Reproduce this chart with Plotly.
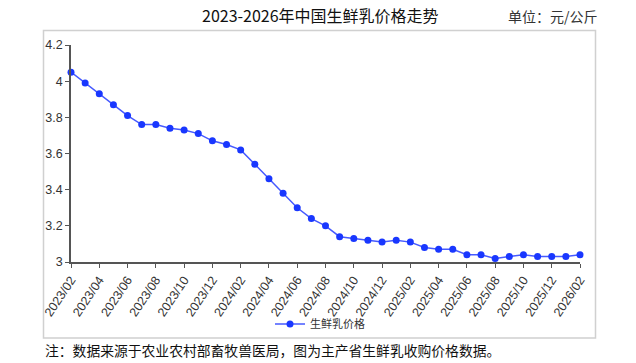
import plotly.graph_objects as go

months = ["2023/02","2023/03","2023/04","2023/05","2023/06","2023/07","2023/08","2023/09","2023/10","2023/11","2023/12",
          "2024/01","2024/02","2024/03","2024/04","2024/05","2024/06","2024/07","2024/08","2024/09","2024/10","2024/11","2024/12",
          "2025/01","2025/02","2025/03","2025/04","2025/05","2025/06","2025/07","2025/08","2025/09","2025/10","2025/11","2025/12",
          "2026/01","2026/02"]
prices = [4.05,3.99,3.93,3.87,3.81,3.76,3.76,3.74,3.73,3.71,3.67,
          3.65,3.62,3.54,3.46,3.38,3.30,3.24,3.20,3.14,3.13,3.12,3.11,
          3.12,3.11,3.08,3.07,3.07,3.04,3.04,3.02,3.03,3.04,3.03,3.03,
          3.03,3.04]
tick_labels = months[::2]
y_ticks = [3, 3.2, 3.4, 3.6, 3.8, 4, 4.2]
y_tick_text = ["3", "3.2", "3.4", "3.6", "3.8", "4", "4.2"]

series_name = "生鲜乳价格"
title_text = "2023-2026年中国生鲜乳价格走势"
unit_text = "单位：元/公斤"
note_text = "注：数据来源于农业农村部畜牧兽医局，图为主产省生鲜乳收购价格数据。"

L, R, T, B = 71, 56, 45, 101
W, H = 636, 363
pw, ph = W - L - R, H - T - B

def px(x):
    return (x - L) / pw

def py(y):
    return (H - B - y) / ph

fig = go.Figure()
fig.add_trace(go.Scatter(
    x=months, y=prices, name=series_name, mode="lines+markers",
    line=dict(color="rgb(70,90,255)", width=1.5),
    marker=dict(color="rgb(25,55,255)", size=7),
    cliponaxis=False,
))

axis_font = dict(family="Liberation Sans, Arial, sans-serif", size=12.5, color="#333")
fig.update_layout(
    width=W, height=H,
    margin=dict(l=L, r=R, t=T, b=B, autoexpand=False),
    paper_bgcolor="white", plot_bgcolor="white",
    showlegend=True,
    legend=dict(orientation="h", x=px(320), y=py(324), xanchor="center", yanchor="middle",
                font=dict(family="Noto Sans CJK SC", size=11, color="#333"),
                bgcolor="rgba(0,0,0,0)", itemwidth=30),
    xaxis=dict(type="category", range=[0, len(months) - 1], automargin=False,
               tickvals=tick_labels, ticktext=tick_labels, tickangle=-56,
               tickfont=dict(family="Liberation Sans, Arial, sans-serif", size=12.5, color="#333"),
               showgrid=False, showline=True, linecolor="#555", linewidth=1.5,
               ticks="outside", ticklen=4, tickcolor="#555"),
    yaxis=dict(range=[3, 4.2], tickvals=y_ticks, ticktext=y_tick_text, automargin=False,
               showgrid=False, zeroline=False, showline=True, linecolor="#555", linewidth=1.5,
               ticks="outside", ticklen=4, tickcolor="#555", tickfont=axis_font),
    font=dict(family="Noto Sans CJK SC"),
)

fig.add_shape(type="rect", xref="paper", yref="paper",
              x0=px(43.5), x1=px(595.5), y0=py(338), y1=py(30.5),
              line=dict(color="#d0d0d0", width=1.5), fillcolor="rgba(0,0,0,0)", layer="below")

fig.add_annotation(text=title_text, xref="paper", yref="paper", x=px(320), y=py(15),
                   xanchor="center", yanchor="middle", showarrow=False,
                   font=dict(family="Noto Sans CJK SC", size=16, color="#111"))
fig.add_annotation(text=unit_text, xref="paper", yref="paper", x=px(600), y=py(16),
                   xanchor="right", yanchor="middle", showarrow=False,
                   font=dict(family="Noto Sans CJK SC", size=14, color="#333"))
fig.add_annotation(text=note_text, xref="paper", yref="paper", x=px(43), y=py(350),
                   xanchor="left", yanchor="middle", showarrow=False,
                   font=dict(family="Noto Sans CJK SC", size=13.8, color="#111"))

fig.write_html("out.html", config={"displayModeBar": False},
               post_script="document.body.style.margin='0';document.body.style.overflow='hidden';")
